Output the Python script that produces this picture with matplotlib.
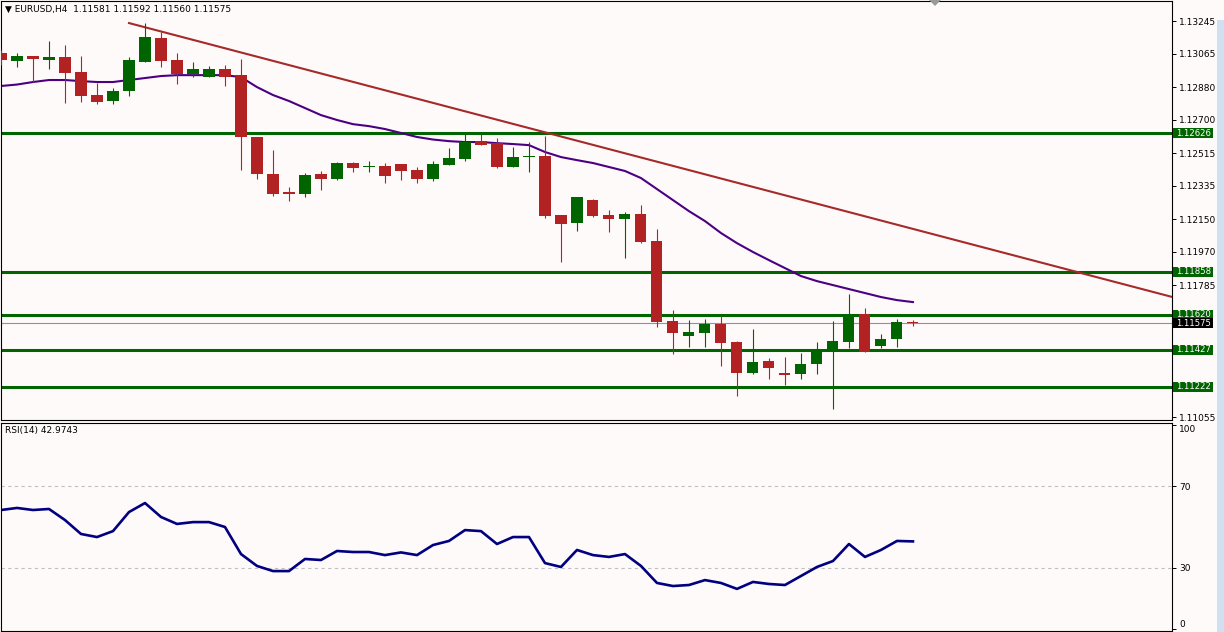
import numpy as np
import matplotlib
matplotlib.use("Agg")
import matplotlib.pyplot as plt
from matplotlib.patches import Polygon, Rectangle
from matplotlib.transforms import blended_transform_factory

# EURUSD H4 candles
opens = [1.13068, 1.13024, 1.13051, 1.13029, 1.13046, 1.12963, 1.12836, 1.12803, 1.12858, 1.13018,
         1.13151, 1.13029, 1.12952, 1.12935, 1.12980, 1.12946, 1.12604, 1.12399, 1.12299, 1.12288,
         1.12399, 1.12371, 1.12460, 1.12438, 1.12443, 1.12454, 1.12421, 1.12371, 1.12449, 1.12482,
         1.12581, 1.12570, 1.12438, 1.12493, 1.12498, 1.12172, 1.12128, 1.12255, 1.12172, 1.12150,
         1.12178, 1.12029, 1.11586, 1.11503, 1.11520, 1.11570, 1.11470, 1.11299, 1.11365, 1.11299,
         1.11293, 1.11348, 1.11420, 1.11470, 1.11625, 1.11448, 1.11487, 1.11581]
highs = [1.13085, 1.13068, 1.13051, 1.13134, 1.13112, 1.13051, 1.12902, 1.12874, 1.13046, 1.13234,
         1.13184, 1.13068, 1.13018, 1.12996, 1.13002, 1.13035, 1.12604, 1.12532, 1.12327, 1.12404,
         1.12416, 1.12465, 1.12465, 1.12471, 1.12460, 1.12454, 1.12438, 1.12471, 1.12543, 1.12620,
         1.12620, 1.12598, 1.12548, 1.12576, 1.12609, 1.12172, 1.12272, 1.12261, 1.12200, 1.12189,
         1.12227, 1.12095, 1.11647, 1.11592, 1.11597, 1.11619, 1.11476, 1.11542, 1.11382, 1.11387,
         1.11409, 1.11470, 1.11586, 1.11735, 1.11658, 1.11514, 1.11597, 1.11592]
lows = [1.13002, 1.12991, 1.12908, 1.12980, 1.12792, 1.12797, 1.12786, 1.12786, 1.12830, 1.13018,
        1.12991, 1.12897, 1.12935, 1.12935, 1.12886, 1.12421, 1.12371, 1.12277, 1.12250, 1.12272,
        1.12310, 1.12366, 1.12410, 1.12410, 1.12349, 1.12366, 1.12349, 1.12360, 1.12449, 1.12471,
        1.12559, 1.12432, 1.12438, 1.12410, 1.12156, 1.11912, 1.12084, 1.12161, 1.12078, 1.11934,
        1.12017, 1.11553, 1.11404, 1.11442, 1.11442, 1.11337, 1.11171, 1.11293, 1.11265, 1.11232,
        1.11265, 1.11293, 1.11099, 1.11437, 1.11415, 1.11437, 1.11442, 1.11560]
closes = [1.13029, 1.13051, 1.13035, 1.13046, 1.12957, 1.12830, 1.12797, 1.12858, 1.13029, 1.13157,
          1.13024, 1.12952, 1.12980, 1.12980, 1.12935, 1.12604, 1.12399, 1.12288, 1.12288, 1.12393,
          1.12371, 1.12460, 1.12432, 1.12443, 1.12388, 1.12416, 1.12371, 1.12454, 1.12487, 1.12576,
          1.12559, 1.12438, 1.12493, 1.12498, 1.12167, 1.12122, 1.12272, 1.12167, 1.12150, 1.12178,
          1.12023, 1.11581, 1.11520, 1.11525, 1.11570, 1.11465, 1.11299, 1.11359, 1.11326, 1.11287,
          1.11348, 1.11420, 1.11476, 1.11625, 1.11415, 1.11487, 1.11581, 1.11575]

# moving average
ma = [1.12886, 1.12894, 1.12908, 1.12919, 1.12919, 1.12913, 1.12908, 1.12908, 1.12919, 1.12930,
      1.12941, 1.12946, 1.12946, 1.12946, 1.12946, 1.12935, 1.12880, 1.12836, 1.12803, 1.12764,
      1.12725, 1.12698, 1.12675, 1.12664, 1.12648, 1.12626, 1.12604, 1.12590, 1.12581, 1.12576,
      1.12576, 1.12570, 1.12565, 1.12559, 1.12521, 1.12493, 1.12476, 1.12460, 1.12438, 1.12416,
      1.12377, 1.12316, 1.12255, 1.12194, 1.12139, 1.12073, 1.12017, 1.11968, 1.11923, 1.11879,
      1.11835, 1.11807, 1.11785, 1.11763, 1.11741, 1.11719, 1.11702, 1.11691]

# RSI(14)
rsi = [58.3, 59.3, 58.3, 58.8, 53.4, 46.6, 45.1, 48.0, 57.3, 61.7,
       54.9, 51.5, 52.4, 52.4, 50.0, 36.8, 31.0, 28.5, 28.5, 34.4,
       33.9, 38.3, 37.8, 37.8, 36.3, 37.6, 36.3, 41.2, 43.2, 48.5,
       48.0, 41.7, 45.1, 45.1, 32.4, 30.5, 38.8, 36.3, 35.4, 36.8,
       31.0, 22.7, 21.2, 21.7, 24.1, 22.7, 19.8, 23.2, 22.2, 21.7,
       26.1, 30.5, 33.4, 41.7, 35.4, 38.8, 43.2, 42.9743]

levels = [1.12626, 1.11858, 1.11620, 1.11427, 1.11222]
last_price = 1.11575
trend_idx = [8, 34]
trend_price = [1.13234, 1.12630]
price_ticks = [1.13245, 1.13065, 1.12880, 1.12700, 1.12515, 1.12335, 1.12150, 1.11970, 1.11785, 1.11055]
rsi_ticks = [0, 30, 70, 100]

BG = '#fffafa'
GREEN = '#006400'
RED = '#b22222'
W, H = 1224, 632
XMAX = 73.19
FS = 6.5
YMIN, YMAX = 1.11039, 1.13356

fig = plt.figure(figsize=(W / 100, H / 100), dpi=100)
fig.patch.set_facecolor(BG)
ax = fig.add_axes([1 / W, 1 - 420 / H, 1171 / W, 419 / H])
rx = fig.add_axes([1 / W, 1 - 630.5 / H, 1171 / W, 208 / H])
for a in (ax, rx):
    a.set_facecolor(BG)
    a.set_xlim(0, XMAX)
    a.set_xticks([])
    for s in a.spines.values():
        s.set_color('black')
        s.set_linewidth(0.8)
    a.yaxis.tick_right()
    a.tick_params(axis='y', length=3, width=0.7, pad=2, labelsize=FS, colors='black')

# price panel
idx = np.arange(len(opens))
o = np.array(opens)
c = np.array(closes)
cols = np.where(c >= o, GREEN, RED)
for lv in levels:
    ax.axhline(lv, color=GREEN, lw=2.2, zorder=1)
ax.axhline(last_price, color='#9090a0', lw=0.8, zorder=1)

slope = (trend_price[1] - trend_price[0]) / (trend_idx[1] - trend_idx[0])
tx = np.array([trend_idx[0], XMAX])
ax.plot(tx, trend_price[0] + slope * (tx - trend_idx[0]), color='#a52a2a', lw=1.5, zorder=2)
ax.plot(idx, ma, color='#4b0082', lw=1.5, zorder=2)

ax.vlines(idx, lows, highs, colors=cols, lw=0.8, zorder=3)
body_lo = np.minimum(o, c)
body_h = np.maximum(np.abs(c - o), 0.00006)
ax.bar(idx, body_h, bottom=body_lo, width=0.69, color=cols, linewidth=0, zorder=4)

ax.set_ylim(YMIN, YMAX)
ax.set_yticks(price_ticks)
ax.set_yticklabels([f'{t:.5f}' for t in price_ticks])

# price tags on the right scale (40 px wide, 10 px tall)
px_price = (YMAX - YMIN) / 419
tr = blended_transform_factory(ax.transAxes, ax.transData)
for lv in levels + [last_price]:
    fc = 'black' if lv == last_price else GREEN
    ax.add_patch(Rectangle((1.0009, lv - 5 * px_price), 40 / 1171, 10 * px_price,
                           transform=tr, fc=fc, ec='none', clip_on=False, zorder=10))
    ax.text(1.0009 + 20.5 / 1171, lv, f'{lv:.5f}', transform=tr, ha='center', va='center',
            fontsize=6.1, color='white', zorder=11, clip_on=False)

# RSI panel
rx.axhline(70, color='#c0c0c0', lw=0.8, ls=(0, (3, 3)))
rx.axhline(30, color='#c0c0c0', lw=0.8, ls=(0, (3, 3)))
rx.plot(idx, rsi, color='#000080', lw=1.9)
rx.set_ylim(-0.5, 101)
rx.set_yticks(rsi_ticks)
rx.set_yticklabels([str(t) for t in rsi_ticks])
labs = rx.get_yticklabels()
labs[0].set_va('bottom')
labs[-1].set_va('top')

fig.text(5 / W, 1 - 9 / H, f'\u25bc EURUSD,H4  {opens[-1]:.5f} {highs[-1]:.5f} {lows[-1]:.5f} {closes[-1]:.5f}',
         fontsize=FS, va='center', ha='left')
fig.text(5 / W, 1 - 431 / H, f'RSI(14) {rsi[-1]:.4f}', fontsize=FS, va='center', ha='left')

# chart shift marker and scrollbar strip
fig.patches.append(Polygon([[929 / W, 1], [941 / W, 1], [935 / W, 1 - 6 / H]], closed=True,
                           transform=fig.transFigure, fc='#9a9a9a', ec='none'))
fig.patches.append(Rectangle((1217 / W, 0), 7 / W, 1 - 20 / H, transform=fig.transFigure,
                             fc='#cfe0f2', ec='none'))

fig.savefig('out.png', dpi=100, facecolor=BG)
